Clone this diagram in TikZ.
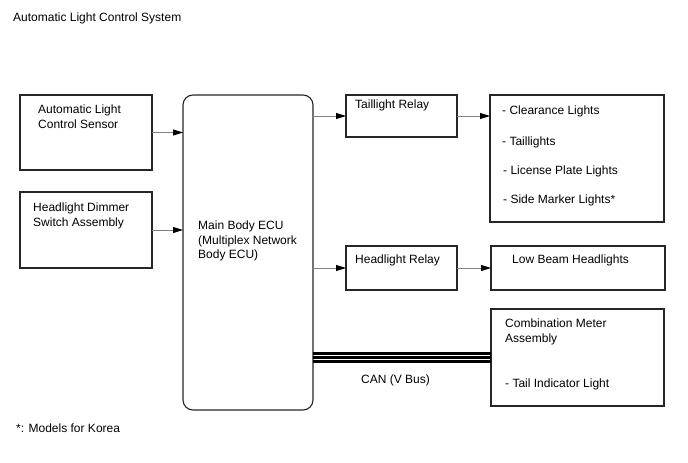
\documentclass[tikz,border=0pt]{standalone}
\usepackage{fontspec}
\setmainfont{Liberation Sans}
\usetikzlibrary{arrows.meta}
\begin{document}
\begin{tikzpicture}[x=1pt,y=-1pt,
  box/.style={draw=black!85,line width=1.1pt,inner sep=0pt,outer sep=0pt,anchor=north west},
  txt/.style={inner sep=0pt,anchor=north west,align=left,font=\fontsize{12}{14.5}\selectfont},
  arr/.style={draw=black!50,line width=0.9pt,-{Triangle[length=10pt,width=6pt,color=black]}},
  can/.style={draw=black,line width=2.1pt}]
\useasboundingbox[fill=white] (0,0) rectangle (688,463);
% boxes
\node[box,minimum width=132pt,minimum height=75pt] (sensor) at (20,95) {};
\node[box,minimum width=132pt,minimum height=76pt] (dimmer) at (20,192) {};
\node[box,minimum width=130pt,minimum height=315pt,rounded corners=10pt] (ecu) at (183,95) {};
\node[box,minimum width=111pt,minimum height=42pt] (trelay) at (346,95) {};
\node[box,minimum width=111pt,minimum height=44pt] (hrelay) at (346,246) {};
\node[box,minimum width=174pt,minimum height=127pt] (lights) at (490,95) {};
\node[box,minimum width=174pt,minimum height=44pt] (lowbeam) at (491,246) {};
\node[box,minimum width=173pt,minimum height=97pt] (comb) at (491,309) {};
% texts
\node[txt] (title) at (13,13) {Automatic Light Control System};
\node[txt] (sensorT) at (38,105) {Automatic Light\\Control Sensor};
\node[txt] (dimmerT) at (33,203) {Headlight Dimmer\\Switch Assembly};
\node[txt] (ecuT) at (198,221) {Main Body ECU\\(Multiplex Network\\Body ECU)};
\node[txt] (trelayT) at (355,100) {Taillight Relay};
\node[txt] (hrelayT) at (355,255) {Headlight Relay};
\node[txt] (lowbeamT) at (512,255) {Low Beam Headlights};
\node[txt] (l1) at (502,106) {- Clearance Lights};
\node[txt] (l2) at (502,137) {- Taillights};
\node[txt] (l3) at (503,166) {- License Plate Lights};
\node[txt] (l4) at (503,195) {- Side Marker Lights*};
\node[txt] (combT) at (505,319) {Combination Meter\\Assembly};
\node[txt] (tailT) at (505,379) {- Tail Indicator Light};
\node[txt] (canT) at (361,375) {CAN (V Bus)};
\node[txt] (note) at (16,424) {*: Models for Korea};
% connectors
\draw[arr] (sensor.east) -- (ecu.west |- sensor.east);
\draw[arr] (dimmer.east) -- (ecu.west |- dimmer.east);
\draw[arr] (ecu.east |- trelay.west) -- (trelay.west);
\draw[arr] (trelay.east) -- (lights.west |- trelay.east);
\draw[arr] (ecu.east |- hrelay.west) -- (hrelay.west);
\draw[arr] (hrelay.east) -- (lowbeam.west);
\draw[can] ([yshift=4pt]ecu.east |- comb.west) -- ([yshift=4pt]comb.west);
\draw[can] (ecu.east |- comb.west) -- (comb.west);
\draw[can] ([yshift=-4pt]ecu.east |- comb.west) -- ([yshift=-4pt]comb.west);
\end{tikzpicture}
\end{document}
